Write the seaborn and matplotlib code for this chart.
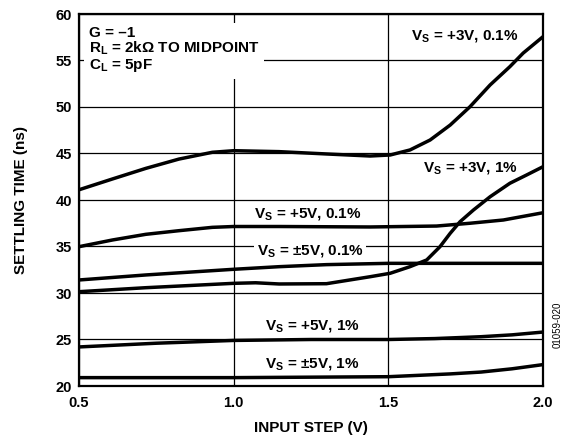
import matplotlib
matplotlib.use("Agg")
import matplotlib.pyplot as plt
import seaborn as sns

sns.set_theme(style="white")
plt.rcParams['font.family'] = ['Liberation Sans', 'DejaVu Sans']
plt.rcParams['mathtext.fontset'] = 'custom'
plt.rcParams['mathtext.rm'] = 'Liberation Sans:bold'
plt.rcParams['mathtext.bf'] = 'Liberation Sans:bold'
plt.rcParams['mathtext.it'] = 'Liberation Sans:bold'

# --- data ---
x_3v_01 = [0.5, 0.608, 0.716, 0.823, 0.931, 1.0, 1.147, 1.3, 1.441, 1.506, 1.57, 1.635,
           1.70, 1.764, 1.829, 1.893, 1.936, 2.0]
y_3v_01 = [41.1, 42.26, 43.4, 44.4, 45.13, 45.3, 45.2, 44.95, 44.73, 44.84, 45.38, 46.45,
           48.06, 50.03, 52.37, 54.34, 55.8, 57.56]

x_3v_1 = [0.5, 0.716, 1.0, 1.071, 1.147, 1.3, 1.441, 1.506, 1.57, 1.624, 1.667, 1.70,
          1.732, 1.775, 1.829, 1.893, 1.947, 2.0]
y_3v_1 = [30.14, 30.57, 31.04, 31.1, 30.97, 31.0, 31.75, 32.12, 32.83, 33.55, 34.98, 36.42,
          37.67, 38.92, 40.35, 41.8, 42.69, 43.58]

x_5v_01 = [0.5, 0.608, 0.716, 0.823, 0.931, 1.0, 1.147, 1.441, 1.656, 1.764, 1.872, 2.0]
y_5v_01 = [34.98, 35.7, 36.31, 36.7, 37.06, 37.15, 37.15, 37.1, 37.2, 37.5, 37.85, 38.63]

x_pm5v_01 = [0.5, 0.716, 1.0, 1.147, 1.3, 1.5, 1.75, 2.0]
y_pm5v_01 = [31.4, 31.94, 32.55, 32.83, 33.05, 33.19, 33.19, 33.19]

x_5v_1 = [0.5, 0.75, 1.0, 1.25, 1.5, 1.65, 1.8, 1.9, 2.0]
y_5v_1 = [24.2, 24.6, 24.9, 25.0, 25.0, 25.1, 25.3, 25.5, 25.8]

x_pm5v_1 = [0.5, 0.75, 1.0, 1.25, 1.5, 1.6, 1.7, 1.8, 1.9, 2.0]
y_pm5v_1 = [20.9, 20.9, 20.9, 20.95, 21.0, 21.15, 21.3, 21.5, 21.85, 22.3]

series = [
    (x_3v_01, y_3v_01), (x_3v_1, y_3v_1), (x_5v_01, y_5v_01),
    (x_pm5v_01, y_pm5v_01), (x_5v_1, y_5v_1), (x_pm5v_1, y_pm5v_1),
]

labels = [r"$\mathrm{V_S}$ = +3V, 0.1%", r"$\mathrm{V_S}$ = +3V, 1%",
          r"$\mathrm{V_S}$ = +5V, 0.1%", r"$\mathrm{V_S}$ = ±5V, 0.1%",
          r"$\mathrm{V_S}$ = +5V, 1%", r"$\mathrm{V_S}$ = ±5V, 1%"]
label_x = [1.748, 1.764, 1.240, 1.247, 1.253, 1.253]
label_y = [57.6, 43.4, 38.5, 34.5, 26.45, 22.4]

x_ticks = [0.5, 1.0, 1.5, 2.0]
x_ticklabels = ["0.5", "1.0", "1.5", "2.0"]
y_ticks = [20, 25, 30, 35, 40, 45, 50, 55, 60]

fig = plt.figure(figsize=(5.71, 4.40), dpi=100)
ax = fig.add_axes([79/571, 1-386/440, (543-79)/571, (386-14)/440])

for xs, ys in series:
    sns.lineplot(x=xs, y=ys, ax=ax, color='black', linewidth=2.5, zorder=3)

ax.set_xlim(0.5, 2.0)
ax.set_ylim(20, 60)
ax.set_xticks(x_ticks)
ax.set_xticklabels(x_ticklabels)
ax.set_yticks(y_ticks)
ax.set_axisbelow(True)
ax.grid(True, color='black', linewidth=0.9)
for sp in ax.spines.values():
    sp.set_color('black')
    sp.set_linewidth(1.6)
ax.tick_params(length=0, labelsize=10.5, colors='black')
ax.tick_params(axis='x', pad=7)
ax.tick_params(axis='y', pad=5)
for lab in ax.get_xticklabels() + ax.get_yticklabels():
    lab.set_fontweight('bold')

ax.set_xlabel("INPUT STEP (V)", fontsize=11, fontweight='bold', color='black', labelpad=8)
ax.set_ylabel("SETTLING TIME (ns)", fontsize=11, fontweight='bold', color='black', labelpad=20)

for t, lx, ly in zip(labels, label_x, label_y):
    ax.text(lx, ly, t, ha='center', va='center', fontsize=11, fontweight='bold',
            color='black', zorder=1.5,
            bbox=dict(facecolor='white', edgecolor='none', pad=1.5))

ax.text(0.532, 58.75, "G = –1\n" + r"$\mathrm{R_L}$ = 2kΩ TO MIDPOINT" + "\n" + r"$\mathrm{C_L}$ = 5pF",
        ha='left', va='top', fontsize=11, fontweight='bold', color='black',
        linespacing=1.0, zorder=1.5,
        bbox=dict(facecolor='white', edgecolor='none', pad=3.5))

fig.text(558/571, 1-325/440, "01059-020", rotation=90, ha='center', va='center',
         fontsize=7, color='black')

fig.savefig("out.png", dpi=100)
